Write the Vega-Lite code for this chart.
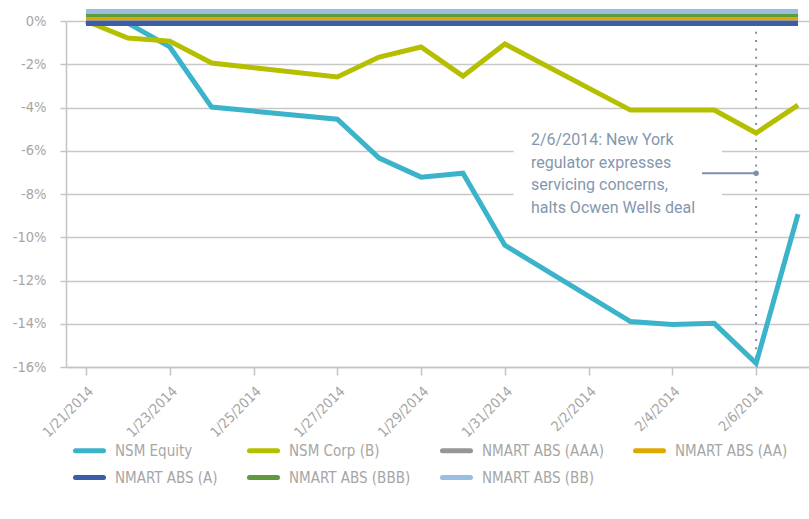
{
  "$schema": "https://vega.github.io/schema/vega-lite/v6.json",
  "width": 743,
  "height": 346,
  "autosize": {"type": "none"},
  "padding": {"left": 66, "top": 21, "right": 0, "bottom": 152},
  "background": "white",
  "config": {"view": {"stroke": null}, "font": "DejaVu Sans Condensed"},
  "data": {"values": [{"note": "annotation"}]},
  "datasets": {
    "series": [
      {"d": "2014-01-21", "s": "NSM Equity", "v": 0},
      {"d": "2014-01-22", "s": "NSM Equity", "v": -0.1},
      {"d": "2014-01-23", "s": "NSM Equity", "v": -1.2},
      {"d": "2014-01-24", "s": "NSM Equity", "v": -3.98},
      {"d": "2014-01-27", "s": "NSM Equity", "v": -4.54},
      {"d": "2014-01-28", "s": "NSM Equity", "v": -6.34},
      {"d": "2014-01-29", "s": "NSM Equity", "v": -7.22},
      {"d": "2014-01-30", "s": "NSM Equity", "v": -7.04},
      {"d": "2014-01-31", "s": "NSM Equity", "v": -10.37},
      {"d": "2014-02-03", "s": "NSM Equity", "v": -13.9},
      {"d": "2014-02-04", "s": "NSM Equity", "v": -14.03},
      {"d": "2014-02-05", "s": "NSM Equity", "v": -13.98},
      {"d": "2014-02-06", "s": "NSM Equity", "v": -15.83},
      {"d": "2014-02-07", "s": "NSM Equity", "v": -8.93},
      {"d": "2014-01-21", "s": "NSM Corp (B)", "v": 0},
      {"d": "2014-01-22", "s": "NSM Corp (B)", "v": -0.79},
      {"d": "2014-01-23", "s": "NSM Corp (B)", "v": -0.93},
      {"d": "2014-01-24", "s": "NSM Corp (B)", "v": -1.94},
      {"d": "2014-01-27", "s": "NSM Corp (B)", "v": -2.59},
      {"d": "2014-01-28", "s": "NSM Corp (B)", "v": -1.67},
      {"d": "2014-01-29", "s": "NSM Corp (B)", "v": -1.2},
      {"d": "2014-01-30", "s": "NSM Corp (B)", "v": -2.55},
      {"d": "2014-01-31", "s": "NSM Corp (B)", "v": -1.06},
      {"d": "2014-02-03", "s": "NSM Corp (B)", "v": -4.12},
      {"d": "2014-02-04", "s": "NSM Corp (B)", "v": -4.12},
      {"d": "2014-02-05", "s": "NSM Corp (B)", "v": -4.12},
      {"d": "2014-02-06", "s": "NSM Corp (B)", "v": -5.18},
      {"d": "2014-02-07", "s": "NSM Corp (B)", "v": -3.89},
      {"d": "2014-01-21", "s": "NMART ABS (AAA)", "v": 0.03},
      {"d": "2014-01-24", "s": "NMART ABS (AAA)", "v": 0.03},
      {"d": "2014-01-31", "s": "NMART ABS (AAA)", "v": 0.03},
      {"d": "2014-02-07", "s": "NMART ABS (AAA)", "v": 0.03},
      {"d": "2014-01-21", "s": "NMART ABS (AA)", "v": 0.16},
      {"d": "2014-01-24", "s": "NMART ABS (AA)", "v": 0.16},
      {"d": "2014-01-31", "s": "NMART ABS (AA)", "v": 0.16},
      {"d": "2014-02-07", "s": "NMART ABS (AA)", "v": 0.16},
      {"d": "2014-01-21", "s": "NMART ABS (A)", "v": -0.12},
      {"d": "2014-01-24", "s": "NMART ABS (A)", "v": -0.12},
      {"d": "2014-01-31", "s": "NMART ABS (A)", "v": -0.12},
      {"d": "2014-02-07", "s": "NMART ABS (A)", "v": -0.12},
      {"d": "2014-01-21", "s": "NMART ABS (BBB)", "v": 0.3},
      {"d": "2014-01-24", "s": "NMART ABS (BBB)", "v": 0.3},
      {"d": "2014-01-31", "s": "NMART ABS (BBB)", "v": 0.3},
      {"d": "2014-02-07", "s": "NMART ABS (BBB)", "v": 0.3},
      {"d": "2014-01-21", "s": "NMART ABS (BB)", "v": 0.44},
      {"d": "2014-01-24", "s": "NMART ABS (BB)", "v": 0.44},
      {"d": "2014-01-31", "s": "NMART ABS (BB)", "v": 0.44},
      {"d": "2014-02-07", "s": "NMART ABS (BB)", "v": 0.44}
    ]
  },
  "layer": [
    {
      "mark": {"type": "rect", "fill": "white"},
      "encoding": {
        "x": {"datum": {"year": 2014, "month": 1, "date": 31, "hours": 5, "utc": true}, "type": "temporal"},
        "x2": {"datum": {"year": 2014, "month": 2, "date": 5, "hours": 4, "minutes": 30, "utc": true}},
        "y": {"datum": -4.8, "type": "quantitative"},
        "y2": {"datum": -9.3}
      }
    },
    {
      "mark": {"type": "rule", "color": "#7d90a8", "strokeWidth": 2, "strokeDash": [2, 6.3]},
      "encoding": {
        "x": {"datum": {"year": 2014, "month": 2, "date": 6, "utc": true}, "type": "temporal"},
        "y": {"datum": -0.5, "type": "quantitative"},
        "y2": {"datum": -16}
      }
    },
    {
      "data": {"name": "series"},
      "mark": {"type": "line", "strokeWidth": 5, "strokeJoin": "miter"},
      "encoding": {
        "x": {
          "field": "d",
          "type": "temporal",
          "scale": {
            "type": "utc",
            "domain": [
              {"year": 2014, "month": 1, "date": 20, "hours": 12, "minutes": 32, "utc": true},
              {"year": 2014, "month": 2, "date": 7, "hours": 6, "minutes": 18, "utc": true}
            ]
          },
          "axis": {
            "values": [
              {"year": 2014, "month": 1, "date": 21, "utc": true},
              {"year": 2014, "month": 1, "date": 23, "utc": true},
              {"year": 2014, "month": 1, "date": 25, "utc": true},
              {"year": 2014, "month": 1, "date": 27, "utc": true},
              {"year": 2014, "month": 1, "date": 29, "utc": true},
              {"year": 2014, "month": 1, "date": 31, "utc": true},
              {"year": 2014, "month": 2, "date": 2, "utc": true},
              {"year": 2014, "month": 2, "date": 4, "utc": true},
              {"year": 2014, "month": 2, "date": 6, "utc": true}
            ],
            "format": "%-m/%-d/%Y",
            "title": null,
            "grid": false,
            "labelAngle": -45,
            "labelFont": "DejaVu Sans Condensed",
            "labelFontSize": 14,
            "labelColor": "#a6a6a6",
            "labelPadding": 9,
            "tickSize": 8,
            "tickColor": "#c4c4c4",
            "tickWidth": 1.5,
            "domainColor": "#c4c4c4",
            "domainWidth": 1.5
          }
        },
        "y": {
          "field": "v",
          "type": "quantitative",
          "scale": {"domain": [-16, 0], "nice": false, "zero": false},
          "axis": {
            "values": [0, -2, -4, -6, -8, -10, -12, -14, -16],
            "labelExpr": "datum.value + '%'",
            "title": null,
            "grid": true,
            "gridColor": "#c8c8c8",
            "gridWidth": 1.5,
            "labelFont": "DejaVu Sans Condensed",
            "labelFontSize": 14.5,
            "labelColor": "#a6a6a6",
            "labelPadding": 14,
            "tickSize": 6,
            "tickColor": "#c4c4c4",
            "tickWidth": 1.5,
            "domainColor": "#c4c4c4",
            "domainWidth": 1.5
          }
        },
        "color": {
          "field": "s",
          "type": "nominal",
          "sort": null,
          "scale": {
            "domain": ["NSM Equity", "NSM Corp (B)", "NMART ABS (AAA)", "NMART ABS (AA)", "NMART ABS (A)", "NMART ABS (BBB)", "NMART ABS (BB)"],
            "range": ["#3bb3ca", "#b5bf00", "#969696", "#dda900", "#3c5da8", "#5f9a3c", "#9abde2"]
          },
          "legend": {
            "title": null,
            "orient": "none",
            "direction": "horizontal",
            "legendX": 7,
            "legendY": 413,
            "columns": 4,
            "columnPadding": 21,
            "rowPadding": 0,
            "padding": 0,
            "symbolType": "stroke",
            "symbolSize": 784,
            "symbolStrokeWidth": 5,
            "labelFont": "DejaVu Sans Condensed",
            "labelFontSize": 15,
            "labelColor": "#a6a6a6",
            "labelOffset": 9,
            "labelLimit": 300,
            "encode": {"symbols": {"update": {"strokeCap": {"value": "round"}}}}
          }
        },
        "strokeWidth": {
          "condition": {"test": "indexof(datum.s, 'NMART') >= 0", "value": 3.5},
          "value": 5
        }
      }
    },
    {
      "mark": {"type": "rule", "color": "#7d90a8", "strokeWidth": 1.8},
      "encoding": {
        "x": {"datum": {"year": 2014, "month": 2, "date": 4, "hours": 17, "utc": true}, "type": "temporal"},
        "x2": {"datum": {"year": 2014, "month": 2, "date": 6, "utc": true}},
        "y": {"datum": -7.04, "type": "quantitative"}
      }
    },
    {
      "mark": {"type": "point", "filled": true, "color": "#7d90a8", "size": 30, "opacity": 1},
      "encoding": {
        "x": {"datum": {"year": 2014, "month": 2, "date": 6, "utc": true}, "type": "temporal"},
        "y": {"datum": -7.04, "type": "quantitative"}
      }
    },
    {
      "mark": {"type": "text", "font": "Roboto", "fontSize": 16, "lineHeight": 22.5, "align": "left", "baseline": "top", "color": "#8497ae"},
      "encoding": {
        "x": {"datum": {"year": 2014, "month": 1, "date": 31, "hours": 15, "utc": true}, "type": "temporal"},
        "y": {"datum": -5.15, "type": "quantitative"},
        "text": {"value": ["2/6/2014: New York", "regulator expresses", "servicing concerns,", "halts Ocwen Wells deal"]}
      }
    }
  ]
}
